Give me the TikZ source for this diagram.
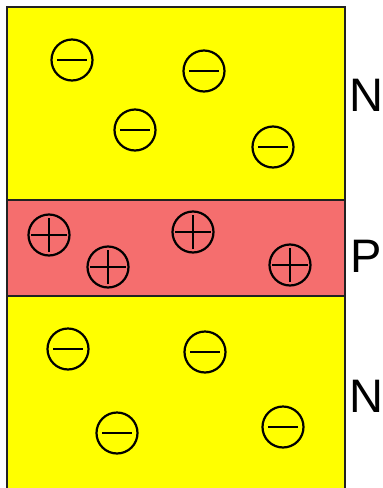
\documentclass[tikz,border=0pt]{standalone}
\usepackage{fontspec}
\setmainfont{Liberation Sans}
\usetikzlibrary{positioning}
\definecolor{nyellow}{HTML}{FFFF00}
\definecolor{pred}{HTML}{F56E6E}
\definecolor{edgegray}{HTML}{222222}

\begin{document}
\begin{tikzpicture}[x=1pt, y=-1pt,
    ion/.style={circle, draw=black, line width=2.2pt, minimum size=41pt, inner sep=0pt},
    anion/.style={ion, path picture={
        \draw[line width=2.2pt] ([xshift=-15pt]path picture bounding box.center)
          -- ([xshift=15pt]path picture bounding box.center);}},
    cation/.style={ion, path picture={
        \draw[line width=2.2pt] ([xshift=-18pt]path picture bounding box.center)
          -- ([xshift=18pt]path picture bounding box.center);
        \draw[line width=2.2pt] ([yshift=-17pt]path picture bounding box.center)
          -- ([yshift=17pt]path picture bounding box.center);}},
    region/.style={font=\fontsize{47}{56}\selectfont}
  ]
    \useasboundingbox (0,0) rectangle (383,488);

    % layers
    \fill[nyellow] (7,7) rectangle (345,200);
    \fill[pred] (7,200) rectangle (345,296);
    \fill[nyellow] (7,296) rectangle (345,488);
    \draw[edgegray, line width=1.4pt] (7,488) -- (7,7) -- (345,7) -- (345,488);
    \draw[edgegray, line width=1.4pt] (7,200) -- (345,200);
    \draw[edgegray, line width=1.4pt] (7,296) -- (345,296);

    % upper N layer
    \node[anion] (n1) at (72,60) {};
    \node[anion] (n2) at (204,71) {};
    \node[anion] (n3) at (135,130) {};
    \node[anion] (n4) at (273,147) {};

    % P layer
    \node[cation] (p1) at (49,235) {};
    \node[cation] (p2) at (108,267) {};
    \node[cation] (p3) at (193,232) {};
    \node[cation] (p4) at (290,265) {};

    % lower N layer
    \node[anion] (n5) at (68,349) {};
    \node[anion] (n6) at (205,352) {};
    \node[anion] (n7) at (117,433) {};
    \node[anion] (n8) at (283,427) {};

    \node[region] (topN) at (366,95) {N};
    \node[region] (midP) at (366,256) {P};
    \node[region] (botN) at (366,396) {N};
  \end{tikzpicture}
\end{document}
